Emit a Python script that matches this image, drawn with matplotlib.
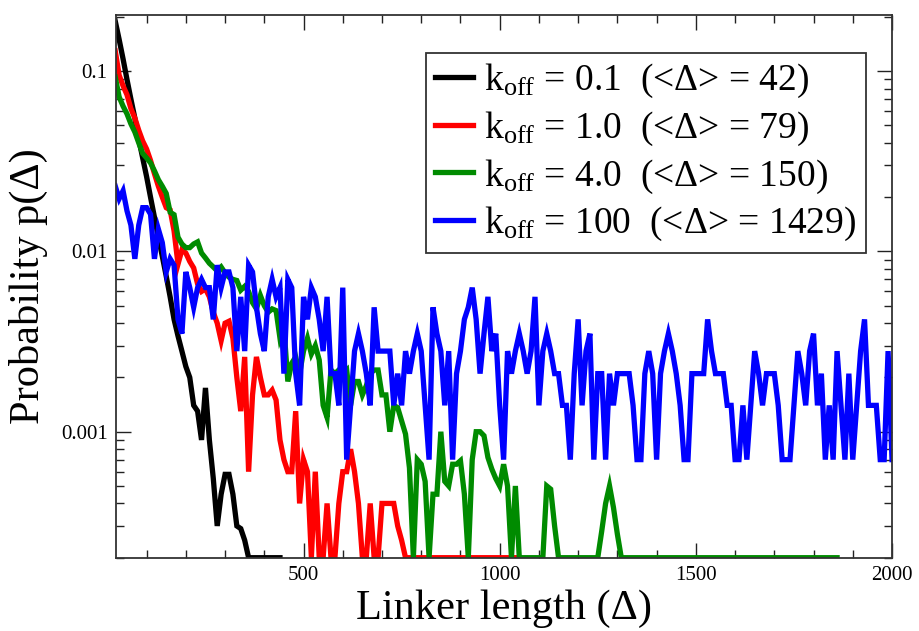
import numpy as np
import matplotlib
matplotlib.use("Agg")
import matplotlib.pyplot as plt
from matplotlib.ticker import FixedLocator, LogLocator, NullFormatter, FixedFormatter

SERIF = ["Liberation Serif", "DejaVu Serif"]
plt.rcParams["font.family"] = SERIF
plt.rcParams["mathtext.fontset"] = "custom"
plt.rcParams["mathtext.rm"] = "Liberation Serif"
plt.rcParams["mathtext.it"] = "Liberation Serif:italic"

# Linker lengths (bins of 10 starting at 20) and probability for each unbinding rate
x_start, x_step = 20, 10
FLOOR = 0.0002

p_k01 = [0.19, 0.150, 0.117, 0.090, 0.070, 0.055, 0.042, 0.033, 0.026, 0.020,
         0.0155, 0.012, 0.0094, 0.0073, 0.0056, 0.0042, 0.0034, 0.0028, 0.0023, 0.0020,
         0.0014, 0.0013, 0.0009, 0.00175, 0.0009, 0.00055, 0.0003, 0.00045, 0.00058, 0.00058,
         0.00045, 0.0003, 0.00029, 0.00025] + [FLOOR] * 9

p_k1 = [0.13, 0.095, 0.083, 0.074, 0.062, 0.055, 0.047, 0.041, 0.037, 0.032,
        0.027, 0.023, 0.020, 0.0175, 0.017, 0.013, 0.0085, 0.0102, 0.0098, 0.0088,
        0.0081, 0.0066, 0.0060, 0.0062, 0.0056, 0.0046, 0.0040, 0.0032, 0.0040, 0.0041,
        0.0033, 0.0020, 0.0013, 0.0026, 0.0006, 0.0016, 0.0026, 0.0020, 0.0016, 0.0016,
        0.0017, 0.0015, 0.0009, 0.0007, 0.0006, 0.0006, 0.0013, 0.0004, 0.0007, 0.0006,
        0.0002, 0.0006, 0.0002, 0.0002, 0.0004, 0.0002, 0.0002, 0.0004, 0.0006, 0.0006,
        0.0008, 0.0006, 0.0004, 0.0002, 0.0002, 0.0004, 0.0002, 0.0002, 0.0004, 0.0004,
        0.0004, 0.0004, 0.0003, 0.00025] + [FLOOR] * 30

p_k4 = ([0.093, 0.072, 0.064, 0.058, 0.051, 0.046, 0.040, 0.035, 0.033, 0.031,
         0.028, 0.025, 0.023, 0.021, 0.0165, 0.016, 0.012, 0.011, 0.0105, 0.0105,
         0.011, 0.0113, 0.0098, 0.0092, 0.0086, 0.0082, 0.0078, 0.0082, 0.0076, 0.0072,
         0.0070, 0.0069, 0.0061, 0.0064, 0.0060, 0.0052, 0.0048, 0.0057, 0.0050, 0.0046,
         0.0048, 0.0047, 0.0033, 0.0038, 0.0019, 0.0024, 0.0026, 0.0021, 0.0028, 0.0033,
         0.0027, 0.0030, 0.0025, 0.0014, 0.0012, 0.0022, 0.0021, 0.0022, 0.0021, 0.0022,
         0.0014, 0.0019, 0.0019, 0.0016, 0.0018, 0.0021, 0.0022, 0.0022, 0.0016, 0.0016,
         0.0010, 0.0014, 0.00136, 0.00115, 0.00097, 0.00063, 0.0002, 0.0007, 0.00066, 0.00053,
         0.0002, 0.00045, 0.00045, 0.0010, 0.00053, 0.0005, 0.00066, 0.00066, 0.00069, 0.00045,
         0.0002, 0.0007, 0.0010, 0.0010, 0.00095, 0.00072, 0.00062, 0.00055, 0.0005, 0.00066,
         0.0005, 0.0002, 0.0005]                      # 20 .. 1040
        + [FLOOR] * 7                                 # 1050 .. 1110
        + [0.0005, 0.00048, 0.0003]                   # 1120 .. 1140
        + [FLOOR] * 11                                # 1150 .. 1250
        + [0.00028, 0.0004, 0.0005, 0.00038, 0.00027]  # 1260 .. 1300
        + [FLOOR] * 56)                               # 1310 .. 1860

p_k100 = [0.0231, 0.0196, 0.0217, 0.0168, 0.0140, 0.0091, 0.0140, 0.0175, 0.0175, 0.0161,
          0.0091, 0.0133, 0.0112, 0.0077, 0.0091, 0.0084, 0.0042, 0.0035, 0.0077, 0.0063,
          0.0049, 0.0063, 0.0070, 0.0063, 0.0063, 0.0042, 0.0084, 0.0063, 0.0077, 0.0077,
          0.0063, 0.0028, 0.0056, 0.0028, 0.0084, 0.0077, 0.0049, 0.0035, 0.0028, 0.0056,
          0.0070, 0.0056, 0.0063, 0.0021, 0.0070, 0.0063, 0.0021, 0.0014, 0.0056, 0.0042,
          0.0063, 0.0056, 0.0042, 0.0028, 0.0056, 0.0021, 0.0021, 0.0014, 0.0063, 0.0007,
          0.0014, 0.0028, 0.0035, 0.0028, 0.0021, 0.0014, 0.0049, 0.0028, 0.0028, 0.0028,
          0.0028, 0.0014, 0.0021, 0.0014, 0.0028, 0.0021, 0.0028, 0.0035, 0.0028, 0.0014,
          0.0007, 0.0049, 0.0035, 0.0028, 0.0014, 0.0028, 0.0007, 0.0021, 0.0028, 0.0042,
          0.0049, 0.0063, 0.0042, 0.0021, 0.0035, 0.0056, 0.0028, 0.0035, 0.0014, 0.0007,
          0.0028, 0.0021, 0.0028, 0.0035, 0.0028, 0.0021, 0.0028, 0.0056, 0.0014, 0.0028,
          0.0035, 0.0028, 0.0021, 0.0021, 0.0014, 0.0014, 0.0007, 0.0021, 0.0042, 0.0014,
          0.0028, 0.0035, 0.0007, 0.0021, 0.0021, 0.0007, 0.0021, 0.0014, 0.0021, 0.0021,
          0.0021, 0.0021, 0.0014, 0.0007, 0.0007, 0.0021, 0.0028, 0.0021, 0.0007, 0.0021,
          0.0028, 0.0035, 0.0028, 0.0021, 0.0014, 0.0007, 0.0007, 0.0021, 0.0021, 0.0021,
          0.0021, 0.0042, 0.0028, 0.0021, 0.0021, 0.0021, 0.0014, 0.0014, 0.0007, 0.0007,
          0.0014, 0.0007, 0.0014, 0.0028, 0.0021, 0.0014, 0.0021, 0.0021, 0.0021, 0.0014,
          0.0007, 0.0007, 0.0007, 0.0014, 0.0028, 0.0021, 0.0014, 0.0028, 0.0035, 0.0014,
          0.0021, 0.0007, 0.0014, 0.0007, 0.0028, 0.0014, 0.0007, 0.0021, 0.0007, 0.0014,
          0.0028, 0.0042, 0.0014, 0.0014, 0.0014, 0.0007, 0.0007, 0.0028, 0.0007]

series_labels = [
    r"k$_{\mathrm{off}}$ = 0.1  (<Δ> = 42)",
    r"k$_{\mathrm{off}}$ = 1.0  (<Δ> = 79)",
    r"k$_{\mathrm{off}}$ = 4.0  (<Δ> = 150)",
    r"k$_{\mathrm{off}}$ = 100  (<Δ> = 1429)",
]
series_colors = ["#000000", "#ff0000", "#008b00", "#0000ff"]

x_ticks = [500, 1000, 1500, 2000]
x_tick_labels = ["500", "1000", "1500", "2000"]
y_ticks = [0.001, 0.01, 0.1]
y_tick_labels = ["0.001", "0.01", "0.1"]

fig = plt.figure(figsize=(9.19, 6.31), dpi=100)
ax = fig.add_axes([116 / 919, 1 - 557.7 / 631, 776 / 919, 542.7 / 631])

for p, lab, col in zip([p_k01, p_k1, p_k4, p_k100], series_labels, series_colors):
    xs = x_start + x_step * np.arange(len(p))
    ax.plot(xs, p, color=col, lw=3.8, label=lab, solid_joinstyle="miter")

ax.set_yscale("log")
ax.set_xlim(22, 2000)
ax.set_ylim(2e-4, 0.205)

ax.xaxis.set_major_locator(FixedLocator(x_ticks))
ax.xaxis.set_major_formatter(FixedFormatter(x_tick_labels))
ax.xaxis.set_minor_locator(FixedLocator(np.arange(100, 2000, 100)))
ax.yaxis.set_major_locator(FixedLocator(y_ticks))
ax.yaxis.set_major_formatter(FixedFormatter(y_tick_labels))
ax.yaxis.set_minor_locator(LogLocator(base=10, subs=np.arange(2, 10), numticks=20))
ax.yaxis.set_minor_formatter(NullFormatter())

ax.tick_params(which="both", direction="in", top=True, right=True, width=1.0, color="#222222")
ax.tick_params(which="major", length=11, labelsize=15, pad=6)
ax.tick_params(which="minor", length=6)
for t in ax.get_xticklabels() + ax.get_yticklabels():
    t.set_fontfamily(SERIF)
for s in ax.spines.values():
    s.set_linewidth(1.3)
    s.set_color("#333333")

ax.set_xlabel("Linker length (Δ)", fontsize=30.5, labelpad=3)
ax.set_ylabel("Probability p(Δ)", fontsize=30.5, labelpad=9)

leg = ax.legend(loc="upper right", bbox_to_anchor=(0.966, 0.9305), fontsize=27,
                frameon=True, fancybox=False, framealpha=1, edgecolor="#333333",
                handlelength=1.0, handletextpad=0.3, labelspacing=0.25,
                borderpad=0.25, borderaxespad=0)
leg.get_frame().set_linewidth(1.3)

fig.savefig("out.png", dpi=100)
